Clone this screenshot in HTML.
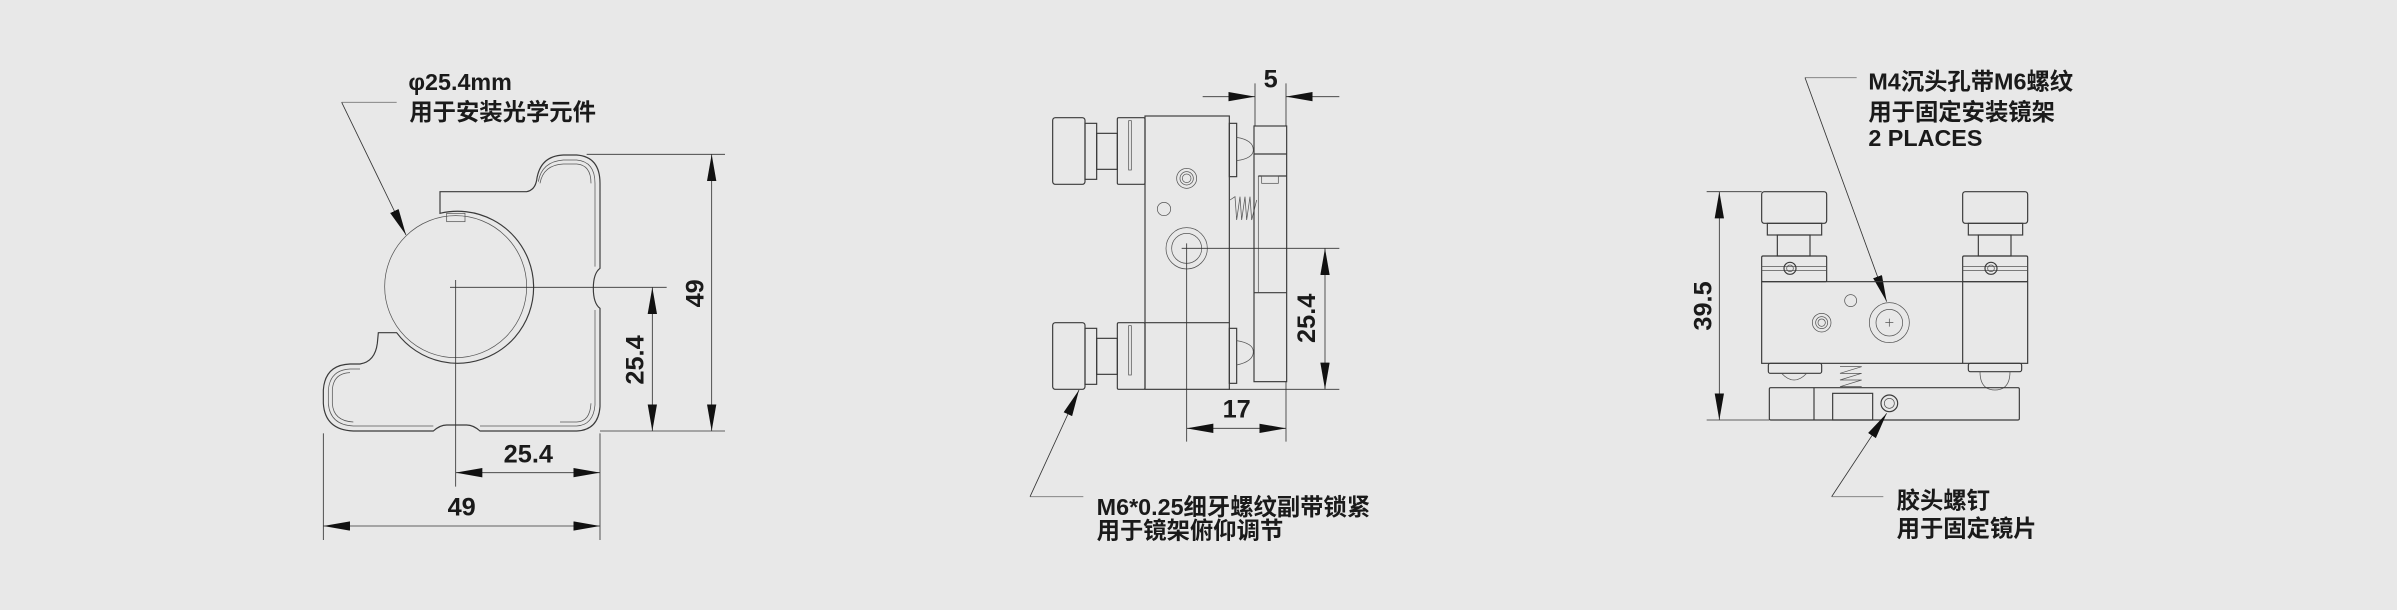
<!DOCTYPE html>
<html><head><meta charset="utf-8">
<style>
html,body{margin:0;padding:0;background:#e8e8e8;}
svg{display:block;}
text{font-family:"Liberation Sans","Noto Sans CJK SC",sans-serif;fill:#1a1a1a;}
.c{font-weight:bold;font-size:70px;}
.d{font-size:76px;font-weight:bold;}
.o{fill:none;stroke:#3a3a3a;stroke-width:3.5;}
.t{fill:none;stroke:#555;stroke-width:2.2;}
.l{fill:none;stroke:#333;stroke-width:2.5;}
.g{fill:none;stroke:#777;stroke-width:2.5;}
</style></head><body>
<svg width="2397" height="610" viewBox="0 0 2397 610" xmlns="http://www.w3.org/2000/svg">
<defs>
<marker id="a" markerUnits="userSpaceOnUse" markerWidth="82" markerHeight="30" refX="80" refY="14" orient="auto-start-reverse" viewBox="0 0 82 30">
<path d="M0,0 L80,14 L0,28 z" fill="#111"/>
</marker>
</defs>
<rect width="2397" height="610" fill="#e8e8e8"/>

<!-- VIEW 1 -->
<g transform="translate(300,50) scale(0.33333)">
<text class="c" x="325" y="120">φ25.4mm</text>
<text class="c" x="328" y="210">用于安装光学元件</text>
<polyline class="g" points="290,157 125,157"/>
<line class="l" x1="125" y1="157" x2="318" y2="555" marker-end="url(#a)"/>
<path class="o" d="M420 425 L680 425 Q705 420 710 390 Q720 318 790 315 L830 315 Q900 320 900 400 L900 655 Q880 670 880 715 Q880 760 900 775 L900 1070 Q895 1140 830 1143 L540 1143 Q520 1125 500 1125 L440 1125 Q420 1125 400 1143 L160 1143 Q75 1140 70 1060 L70 1020 Q75 945 150 942 L180 942 Q225 935 232 880 L235 848 L290 848 A228 228 0 1 0 420 490 Z"/>
<path class="t" d="M715 395 Q725 335 790 330 L830 330 Q885 335 885 400 L885 650 M885 780 L885 1065 Q880 1125 830 1128 L540 1128 M400 1128 L160 1128 Q90 1125 85 1060 L85 1020 Q90 960 150 957 L180 957"/>
<path class="t" d="M720 400 Q730 345 790 342 L830 342 Q873 345 873 400 M873 1060 Q870 1115 830 1116 L780 1116 M160 1116 Q100 1113 97 1060 L97 1020 Q100 970 150 968"/>
<circle class="t" cx="467" cy="710" r="213"/>
<rect class="t" x="440" y="490" width="55" height="25"/>
<line class="l" x1="450" y1="712" x2="1100" y2="712"/>
<line class="l" x1="467" y1="690" x2="467" y2="1310"/>
<line class="l" x1="900" y1="1150" x2="900" y2="1470"/>
<line class="l" x1="70" y1="1150" x2="70" y2="1470"/>
<line class="l" x1="900" y1="1143" x2="1275" y2="1143"/>
<line class="l" x1="860" y1="313" x2="1275" y2="313"/>
<line class="l" x1="1235" y1="313" x2="1235" y2="1143" marker-start="url(#a)" marker-end="url(#a)"/>
<text class="d" transform="translate(1210,730) rotate(-90)" text-anchor="middle">49</text>
<line class="l" x1="1057" y1="712" x2="1057" y2="1143" marker-start="url(#a)" marker-end="url(#a)"/>
<text class="d" transform="translate(1030,930) rotate(-90)" text-anchor="middle">25.4</text>
<line class="l" x1="467" y1="1268" x2="900" y2="1268" marker-start="url(#a)" marker-end="url(#a)"/>
<text class="d" x="685" y="1237" text-anchor="middle">25.4</text>
<line class="l" x1="70" y1="1428" x2="900" y2="1428" marker-start="url(#a)" marker-end="url(#a)"/>
<text class="d" x="485" y="1397" text-anchor="middle">49</text>
</g>

<!-- VIEW 2 -->
<g transform="translate(1000,50) scale(0.33333)">
<g id="kn">
<rect class="o" x="158" y="203" width="97" height="200" rx="8"/>
<rect class="o" x="255" y="220" width="35" height="168"/>
<rect class="o" x="290" y="250" width="62" height="108"/>
<rect class="o" x="352" y="203" width="83" height="200" rx="4"/>
<rect class="t" x="386" y="212" width="8" height="148"/>
</g>
<use href="#kn" y="615"/>
<rect class="o" x="435" y="198" width="253" height="820"/>
<line class="o" x1="435" y1="818" x2="688" y2="818"/>
<rect class="o" x="688" y="220" width="22" height="160"/>
<rect class="o" x="688" y="835" width="22" height="165"/>
<path class="t" d="M710 262 Q760 270 760 300 Q760 325 710 332"/>
<path class="t" d="M710 872 Q760 880 760 905 Q760 935 710 945"/>
<path class="t" d="M690 450 l15 -10 l5 70 l10 -70 l5 70 l10 -70 l5 70 l10 -70 l5 70 l15 -60"/>
<rect class="o" x="762" y="228" width="98" height="767"/>
<line class="o" x1="762" y1="312" x2="860" y2="312"/>
<line class="o" x1="775" y1="378" x2="860" y2="378"/>
<line class="o" x1="762" y1="728" x2="860" y2="728"/>
<line class="t" x1="775" y1="378" x2="775" y2="728"/>
<rect class="t" x="785" y="378" width="50" height="22"/>
<circle class="t" cx="560" cy="385" r="30"/><circle class="t" cx="560" cy="385" r="20"/><circle class="t" cx="560" cy="385" r="13"/>
<circle class="t" cx="492" cy="477" r="20"/>
<circle class="t" cx="560" cy="595" r="62"/><circle class="t" cx="560" cy="595" r="45"/>
<line class="l" x1="545" y1="595" x2="1018" y2="595"/>
<line class="l" x1="560" y1="580" x2="560" y2="1175"/>
<line class="l" x1="765" y1="100" x2="765" y2="228"/>
<line class="l" x1="858" y1="100" x2="858" y2="228"/>
<line class="l" x1="608" y1="140" x2="765" y2="140" marker-end="url(#a)"/>
<line class="l" x1="1018" y1="140" x2="858" y2="140" marker-end="url(#a)"/>
<text class="d" x="812" y="112" text-anchor="middle">5</text>
<line class="l" x1="688" y1="1018" x2="1018" y2="1018"/>
<line class="l" x1="975" y1="595" x2="975" y2="1018" marker-start="url(#a)" marker-end="url(#a)"/>
<text class="d" transform="translate(945,805) rotate(-90)" text-anchor="middle">25.4</text>
<line class="l" x1="858" y1="995" x2="858" y2="1175"/>
<line class="l" x1="560" y1="1135" x2="858" y2="1135" marker-start="url(#a)" marker-end="url(#a)"/>
<text class="d" x="710" y="1102" text-anchor="middle">17</text>
<polyline class="g" points="250,1340 90,1340"/>
<line class="l" x1="90" y1="1340" x2="237" y2="1020" marker-end="url(#a)"/>
<text class="c" x="290" y="1395">M6*0.25细牙螺纹副带锁紧</text>
<text class="c" x="290" y="1465">用于镜架俯仰调节</text>
</g>

<!-- VIEW 3 -->
<g transform="translate(1680,50) scale(0.33333)">
<text class="c" x="565" y="118">M4沉头孔带M6螺纹</text>
<text class="c" x="565" y="210">用于固定安装镜架</text>
<text class="c" x="565" y="288">2 PLACES</text>
<polyline class="g" points="530,83 375,83"/>
<line class="l" x1="375" y1="83" x2="620" y2="755" marker-end="url(#a)"/>
<g id="k3">
<rect class="o" x="245" y="425" width="195" height="95" rx="8"/>
<rect class="o" x="262" y="520" width="163" height="35"/>
<rect class="o" x="292" y="555" width="98" height="63"/>
<rect class="o" x="245" y="618" width="195" height="77" rx="4"/>
<line class="t" x1="245" y1="650" x2="440" y2="650"/>
<line class="t" x1="245" y1="662" x2="440" y2="662"/>
<circle class="o" cx="330" cy="655" r="18" fill="#e8e8e8"/><circle class="t" cx="330" cy="655" r="10"/>
</g>
<use href="#k3" x="603"/>
<rect class="o" x="245" y="695" width="798" height="245"/>
<line class="o" x1="848" y1="695" x2="848" y2="940"/>
<circle class="t" cx="512" cy="752" r="18"/>
<circle class="t" cx="425" cy="818" r="28"/><circle class="t" cx="425" cy="818" r="18"/><circle class="t" cx="425" cy="818" r="11"/>
<circle class="t" cx="628" cy="818" r="60"/><circle class="t" cx="628" cy="818" r="40"/>
<path class="t" d="M616 818 h24 M628 806 v24"/>
<rect class="o" x="265" y="940" width="160" height="30" rx="6"/>
<path class="t" d="M305 970 Q342 1010 380 970"/>
<rect class="o" x="865" y="940" width="160" height="25" rx="6"/>
<path class="t" d="M900 965 Q900 1020 945 1020 Q990 1020 990 965"/>
<path class="t" d="M480 950 h65 l-65 20 h65 l-65 20 h65 l-65 20 h65"/>
<rect class="o" x="268" y="1013" width="750" height="97" rx="4"/>
<line class="o" x1="402" y1="1013" x2="402" y2="1110"/>
<rect class="o" x="458" y="1030" width="120" height="80"/>
<circle class="o" cx="628" cy="1060" r="25"/><circle class="t" cx="628" cy="1060" r="15"/>
<line class="l" x1="80" y1="425" x2="245" y2="425"/>
<line class="l" x1="80" y1="1110" x2="268" y2="1110"/>
<line class="l" x1="118" y1="425" x2="118" y2="1110" marker-start="url(#a)" marker-end="url(#a)"/>
<text class="d" transform="translate(95,768) rotate(-90)" text-anchor="middle">39.5</text>
<polyline class="g" points="610,1340 455,1340"/>
<line class="l" x1="455" y1="1340" x2="620" y2="1090" marker-end="url(#a)"/>
<text class="c" x="650" y="1375">胶头螺钉</text>
<text class="c" x="650" y="1460">用于固定镜片</text>
</g>
</svg>
</body></html>
